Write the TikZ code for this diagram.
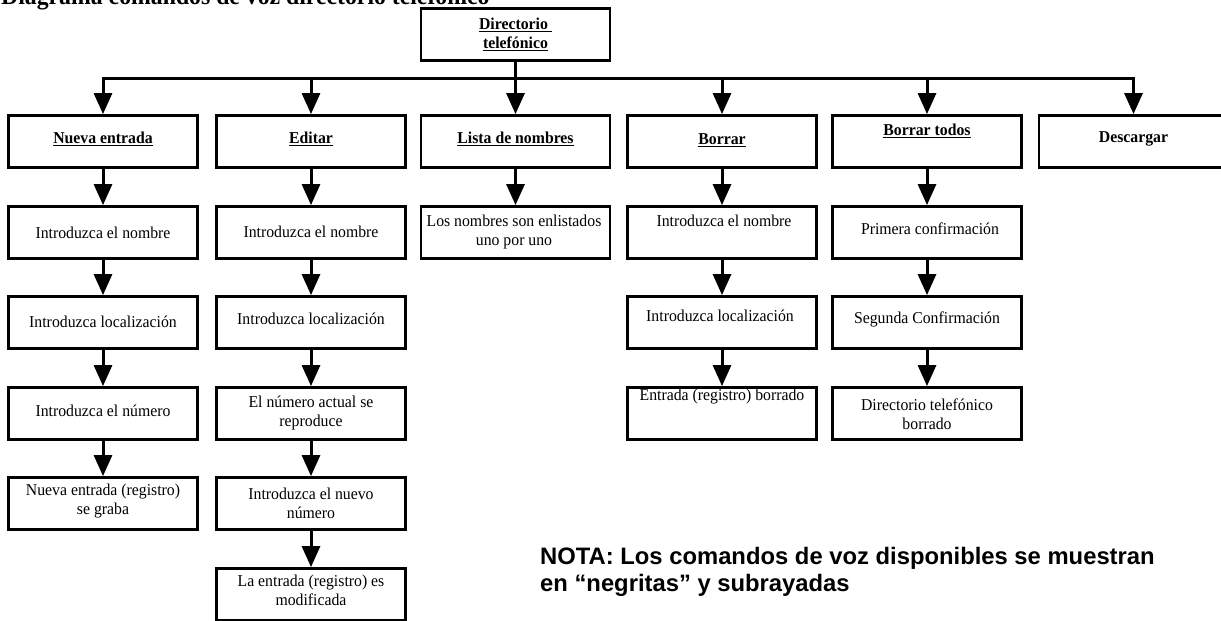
\documentclass[tikz,border=0pt]{standalone}
\usepackage{fontspec}
\setmainfont{Liberation Serif}[FakeStretch=0.95]
\newfontfamily\notafont{Liberation Sans}
\usetikzlibrary{arrows.meta}
\begin{document}
\begin{tikzpicture}[x=1pt,y=-1pt,
  box/.style={draw=black, line width=2.8pt, minimum width=189pt, minimum height=52pt, inner sep=0pt},
  conn/.style={line width=3pt, draw=black},
  arr/.style={conn, -{Triangle[width=18pt,length=21pt]}},
  txt/.style={inner sep=0pt, align=center, font=\fontsize{16.6}{19}\selectfont},
  cmd/.style={inner sep=0pt, align=center, font=\fontsize{16.6}{19}\selectfont\bfseries},
]
\useasboundingbox (0,0) rectangle (1221,621);
\clip (0,0) rectangle (1221,621);

% title
\node[anchor=base west, inner sep=0pt, font=\fontsize{25}{28}\selectfont\bfseries] (title) at (1,5) {Diagrama comandos de voz directorio telefónico};

% top box
\node[box] (top) at (515.5,34.5) {};
\node[cmd] (topt) at (515.5,34) {\underline{Directorio\ }\\\underline{telefónico}};

% command row
\node[box] (c1) at (103,141.5) {};
\node[box] (c2) at (311,141.5) {};
\node[box] (c3) at (515.5,141.5) {};
\node[box] (c4) at (722,141.5) {};
\node[box] (c5) at (927,141.5) {};
\node[box] (c6) at (1133.5,141.5) {};
\node[cmd] (c1t) at (103,139) {\underline{Nueva entrada}};
\node[cmd] (c2t) at (311,139) {\underline{Editar}};
\node[cmd] (c3t) at (515.5,139) {\underline{Lista de nombres}};
\node[cmd] (c4t) at (722,140) {\underline{Borrar}};
\node[cmd] (c5t) at (927,131) {\underline{Borrar todos}};
\node[cmd] (c6t) at (1133.5,139) {Descargar};

% column 1
\node[box] (a12) at (103,232.5) {};
\node[box] (a13) at (103,322.5) {};
\node[box] (a14) at (103,413.5) {};
\node[box] (a15) at (103,503.5) {};
\node[txt] (a12t) at (103,233) {Introduzca el nombre};
\node[txt] (a13t) at (103,322) {Introduzca localización};
\node[txt] (a14t) at (103,411) {Introduzca el número};
\node[txt] (a15t) at (103,501) {Nueva entrada (registro)\\se graba};

% column 2
\node[box] (a22) at (311,232.5) {};
\node[box] (a23) at (311,322.5) {};
\node[box] (a24) at (311,413.5) {};
\node[box] (a25) at (311,503.5) {};
\node[box] (a26) at (311,594.5) {};
\node[txt] (a22t) at (311,232) {Introduzca el nombre};
\node[txt] (a23t) at (311,319) {Introduzca localización};
\node[txt] (a24t) at (311,413) {El número actual se\\reproduce};
\node[txt] (a25t) at (311,503) {Introduzca el nuevo\\número};
\node[txt] (a26t) at (311,590) {La entrada (registro) es\\modificada};

% column 3
\node[box] (a32) at (515.5,232.5) {};
\node[txt] (a32t) at (514,232) {Los nombres son enlistados\\uno por uno};

% column 4
\node[box] (a42) at (722,232.5) {};
\node[box] (a43) at (722,322.5) {};
\node[box] (a44) at (722,413.5) {};
\node[txt] (a42t) at (724,221) {Introduzca el nombre};
\node[txt] (a43t) at (720,316) {Introduzca localización};
\node[txt] (a44t) at (722,397) {Entrada (registro) borrado};

% column 5
\node[box] (a52) at (927,232.5) {};
\node[box] (a53) at (927,322.5) {};
\node[box] (a54) at (927,413.5) {};
\node[txt] (a52t) at (930,229) {Primera confirmación};
\node[txt] (a53t) at (927,319) {Segunda Confirmación};
\node[txt] (a54t) at (927,414) {Directorio telefónico\\borrado};

% note
\node[anchor=base west, inner sep=0pt, align=left, font=\notafont\fontsize{23.8}{27}\selectfont\bfseries] (nota) at (540,591) {NOTA: Los comandos de voz disponibles se muestran\\en “negritas” y subrayadas};

% connectors
\coordinate (bus) at (0,78);
\draw[conn] (top.south) -- (top.south |- bus);
\draw[conn, line cap=rect] (c1.north |- bus) -- (c6.north |- bus);
\foreach \n in {c1,c2,c3,c4,c5,c6} {\draw[arr] (\n.north |- bus) -- (\n.north);}

\draw[arr] (c1.south) -- (a12.north);
\draw[arr] (a12.south) -- (a13.north);
\draw[arr] (a13.south) -- (a14.north);
\draw[arr] (a14.south) -- (a15.north);

\draw[arr] (c2.south) -- (a22.north);
\draw[arr] (a22.south) -- (a23.north);
\draw[arr] (a23.south) -- (a24.north);
\draw[arr] (a24.south) -- (a25.north);
\draw[arr] (a25.south) -- (a26.north);

\draw[arr] (c3.south) -- (a32.north);

\draw[arr] (c4.south) -- (a42.north);
\draw[arr] (a42.south) -- (a43.north);
\draw[arr] (a43.south) -- (a44.north);

\draw[arr] (c5.south) -- (a52.north);
\draw[arr] (a52.south) -- (a53.north);
\draw[arr] (a53.south) -- (a54.north);
\end{tikzpicture}
\end{document}
